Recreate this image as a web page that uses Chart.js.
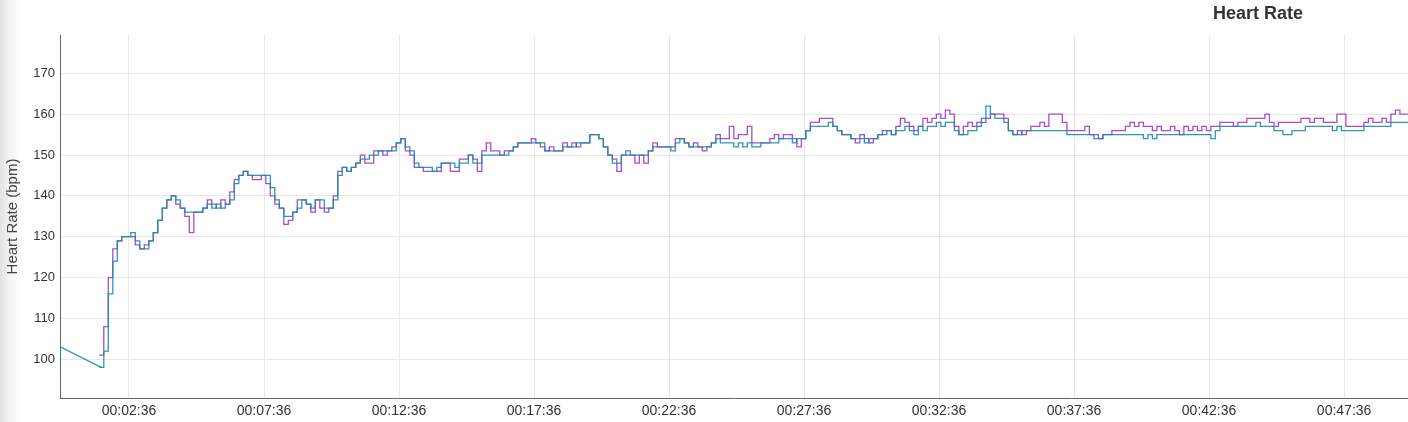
<!DOCTYPE html>
<html><head><meta charset="utf-8">
<script src="https://cdn.jsdelivr.net/npm/chart.js@4"></script>
<style>
html,body{margin:0;padding:0;}
body{width:1408px;height:422px;overflow:hidden;background:linear-gradient(to right,#e2e2e2 0px,#f3f3f3 9px,#ffffff 22px);}
#wrap{position:relative;width:1408px;height:422px;}
canvas{display:block;}
</style></head><body><div id="wrap"><canvas id="c" width="1408" height="422"></canvas></div>
<script>
const chartTitle = 'Heart Rate';
const yAxisTitle = 'Heart Rate (bpm)';
const xTickSeconds = [156, 456, 756, 1056, 1356, 1656, 1956, 2256, 2556, 2856];
const xTickLabels = ['00:02:36','00:07:36','00:12:36','00:17:36','00:22:36','00:27:36','00:32:36','00:37:36','00:42:36','00:47:36'];
const yTickValues = [100, 110, 120, 130, 140, 150, 160, 170];

// teal series: first samples before the gap (seconds, bpm)
const tealLeadTimes = [2.7, 3.5, 94];
const tealLeadValues = [101, 103, 98];

// both series sampled every 10 s from 90 s
const sampleStart = 90;
const sampleStep = 10;
const tealValues = [
  98,102,116,124,129,130,130,131,129,127,
  127,129,131,134,137,139,140,139,137,136,
  136,136,136,137,138,137,138,137,138,139,
  143,145,146,145,145,145,145,145,142,139,
  137,135,135,136,137,139,138,137,139,139,
  137,137,139,145,147,146,147,148,149,149,
  150,150,151,151,151,151,153,154,152,151,
  148,147,147,147,146,147,148,148,148,147,
  148,148,150,148,148,150,150,150,150,150,
  150,151,152,153,153,153,153,153,153,151,
  151,151,151,152,152,152,153,153,153,155,
  155,154,152,150,148,148,150,151,150,150,
  150,150,151,152,152,152,152,151,153,154,
  153,152,152,152,152,152,153,154,153,153,
  153,152,153,152,153,152,152,153,153,153,
  153,154,154,154,153,154,154,156,157,157,
  157,157,158,157,156,155,155,154,154,154,
  153,154,154,155,155,156,155,156,156,157,
  156,155,157,156,157,157,158,157,158,158,
  156,155,155,156,156,157,159,162,160,159,
  159,158,156,155,155,156,156,156,156,156,
  156,156,156,156,156,155,155,155,155,155,
  155,154,154,155,155,155,155,155,155,155,
  155,155,154,155,154,155,155,155,155,155,
  155,155,155,155,155,155,155,154,156,157,
  157,157,157,157,157,157,157,158,157,157,
  157,156,156,155,155,156,156,156,157,157,
  157,157,157,157,156,157,156,156,156,156,
  156,157,157,157,157,157,157,158,158,158,
  158,158
];
const purpleValues = [
  101,108,120,127,129,130,130,130,128,127,
  128,129,131,134,137,139,140,138,137,135,
  131,136,136,137,139,138,137,139,138,141,
  144,145,146,145,144,144,145,143,140,138,
  137,133,134,136,139,139,138,136,139,137,
  136,137,140,146,147,146,147,148,150,148,
  148,151,151,150,151,152,153,154,151,150,
  147,147,146,146,146,146,148,148,146,146,
  149,149,150,149,146,151,153,151,151,150,
  151,151,152,153,153,153,154,153,152,151,
  152,151,151,153,152,153,152,153,153,155,
  155,154,152,150,149,146,150,150,150,148,
  150,148,151,153,152,152,152,152,154,154,
  153,152,153,152,151,152,153,155,154,154,
  157,154,155,155,157,153,153,153,153,154,
  155,154,155,155,154,152,154,156,158,158,
  159,159,159,157,156,155,155,154,153,155,
  154,153,154,155,156,156,155,157,159,158,
  157,156,157,159,158,159,160,159,161,160,
  157,155,157,158,157,158,158,159,160,160,
  160,159,156,155,156,155,156,157,157,158,
  157,160,160,160,158,156,156,156,156,157,
  155,155,154,155,155,156,156,156,157,158,
  157,158,157,157,156,157,156,156,157,156,
  155,157,156,157,156,157,156,157,157,158,
  158,158,157,158,158,159,159,159,159,160,
  158,157,158,158,158,158,158,159,159,158,
  159,159,158,158,158,160,160,157,157,157,
  157,158,159,158,158,159,158,160,161,160,
  160,160
];

const tealColor = 'rgba(24,140,172,0.9)';
const purpleColor = 'rgba(153,45,205,0.85)';

const toPoints = (vals) => vals.map((v, i) => ({x: sampleStart + i * sampleStep, y: v}));
const leadPoints = tealLeadValues.map((v, i) => ({x: tealLeadTimes[i], y: v}));

const titlePlugin = {
  id: 'topTitle',
  afterDraw(chart) {
    const ctx = chart.ctx;
    ctx.save();
    ctx.font = 'bold 18px "Liberation Sans", Arial, sans-serif';
    ctx.fillStyle = '#333';
    ctx.textAlign = 'center';
    ctx.textBaseline = 'middle';
    ctx.fillText(chartTitle, 1258, 14);
    ctx.restore();
  }
};

new Chart(document.getElementById('c'), {
  type: 'line',
  data: {
    datasets: [
      {data: leadPoints, borderColor: tealColor, borderWidth: 1.3, pointRadius: 0, stepped: false, fill: false},
      {data: toPoints(tealValues), borderColor: tealColor, borderWidth: 1.3, pointRadius: 0, stepped: true, fill: false},
      {data: toPoints(purpleValues), borderColor: purpleColor, borderWidth: 1.3, pointRadius: 0, stepped: true, fill: false}
    ]
  },
  options: {
    responsive: false,
    animation: false,
    parsing: false,
    layout: {padding: {top: 35, bottom: 0, left: 0, right: 0}},
    plugins: {legend: {display: false}, tooltip: {enabled: false}, title: {display: false}},
    scales: {
      x: {
        type: 'linear', min: 2.7, max: 2998,
        afterBuildTicks: (s) => { s.ticks = xTickSeconds.map(v => ({value: v})); },
        afterFit: (s) => { s.height = 24; },
        ticks: {
          autoSkip: false, maxRotation: 0, padding: 5, color: '#333',
          font: {family: '"Liberation Sans", Arial, sans-serif', size: 14},
          callback: (v) => { const i = xTickSeconds.indexOf(v); return i >= 0 ? xTickLabels[i] : ''; }
        },
        grid: {color: '#e9e9e9', drawTicks: false},
        border: {color: '#666', width: 1}
      },
      y: {
        min: 90.5, max: 179.4,
        afterBuildTicks: (s) => { s.ticks = yTickValues.map(v => ({value: v})); },
        afterFit: (s) => { s.width = 60; },
        ticks: {padding: 5, color: '#333', font: {family: '"Liberation Sans", Arial, sans-serif', size: 13}},
        title: {display: true, text: yAxisTitle, color: '#444', padding: {top: 4, bottom: 0},
                font: {family: '"Liberation Sans", Arial, sans-serif', size: 15}},
        grid: {color: '#e9e9e9', drawTicks: false},
        border: {color: '#666', width: 1}
      }
    }
  },
  plugins: [titlePlugin]
});
</script>
</body></html>
